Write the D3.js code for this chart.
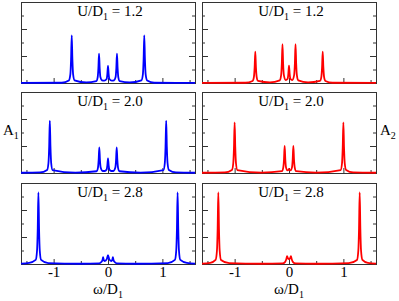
<!DOCTYPE html>
<html><head><meta charset="utf-8">
<script src="https://cdn.jsdelivr.net/npm/d3@7"></script>
<style>body{margin:0;background:#fff}svg{display:block}</style>
</head><body><svg id="c" width="399" height="301"></svg>
<script>
const xTicksMajor = [-1, 0, 1];
const xTicksMinor = [-1.5, -0.5, 0.5, 1.5];
const yTicksMajor = [0, 2, 4, 6];
const yTicksMinor = [1, 3, 5];
const uLabels = ["1.2", "2.0", "2.8"];
const seriesNames = ["A1", "A2"];
const seriesColors = ["#0000ff", "#ff0000"];

const a1_u12 = [[-1.6,0.01],[-0.85,0.02],[-0.72,0.19],[-0.692,0.66],[-0.679,1.77],[-0.667,3.53],[-0.655,1.77],[-0.642,0.66],[-0.615,0.2],[-0.4,0.04],[-0.215,0.14],[-0.19,0.42],[-0.177,1.09],[-0.165,2.17],[-0.153,1.09],[-0.14,0.44],[-0.11,0.2],[-0.07,0.17],[-0.025,0.3],[-0.012,0.66],[0,1.27],[0.012,0.66],[0.025,0.3],[0.07,0.17],[0.11,0.2],[0.14,0.44],[0.153,1.09],[0.165,2.17],[0.177,1.09],[0.19,0.42],[0.215,0.14],[0.4,0.04],[0.615,0.2],[0.642,0.66],[0.655,1.77],[0.667,3.53],[0.679,1.77],[0.692,0.66],[0.72,0.19],[0.85,0.02],[1.6,0.01]];
const a2_u12 = [[-1.6,0.01],[-0.8,0.02],[-0.67,0.15],[-0.645,0.46],[-0.632,1.16],[-0.62,2.32],[-0.608,1.16],[-0.595,0.46],[-0.57,0.16],[-0.35,0.05],[-0.17,0.2],[-0.145,0.58],[-0.132,1.44],[-0.12,2.87],[-0.108,1.44],[-0.095,0.6],[-0.06,0.22],[-0.025,0.32],[-0.012,0.68],[0,1.28],[0.012,0.68],[0.025,0.32],[0.06,0.22],[0.095,0.6],[0.108,1.44],[0.12,2.87],[0.132,1.44],[0.145,0.58],[0.17,0.2],[0.35,0.05],[0.57,0.16],[0.595,0.46],[0.608,1.16],[0.62,2.32],[0.632,1.16],[0.645,0.46],[0.67,0.15],[0.8,0.02],[1.6,0.01]];
const a1_u20 = [[-1.6,0.02],[-1.25,0.04],[-1.12,0.22],[-1.095,0.74],[-1.082,1.94],[-1.07,3.87],[-1.058,1.94],[-1.045,0.74],[-1.02,0.22],[-0.6,0.03],[-0.21,0.13],[-0.185,0.38],[-0.172,0.95],[-0.16,1.9],[-0.148,0.95],[-0.135,0.4],[-0.1,0.15],[-0.06,0.15],[-0.025,0.26],[-0.012,0.56],[0,1.09],[0.012,0.56],[0.025,0.26],[0.06,0.15],[0.1,0.15],[0.135,0.4],[0.148,0.95],[0.16,1.9],[0.172,0.95],[0.185,0.38],[0.21,0.13],[0.6,0.03],[1.02,0.22],[1.045,0.74],[1.058,1.94],[1.07,3.87],[1.082,1.94],[1.095,0.74],[1.12,0.22],[1.25,0.04],[1.6,0.02]];
const a2_u20 = [[-1.6,0.02],[-1.18,0.04],[-1.05,0.22],[-1.025,0.72],[-1.012,1.88],[-1.0,3.75],[-0.988,1.88],[-0.975,0.72],[-0.95,0.22],[-0.5,0.03],[-0.13,0.14],[-0.105,0.42],[-0.092,1.0],[-0.08,2.0],[-0.068,1.0],[-0.055,0.42],[-0.03,0.2],[-0.012,0.22],[0,0.3],[0.012,0.22],[0.03,0.2],[0.055,0.42],[0.068,1.0],[0.08,2.0],[0.092,1.0],[0.105,0.42],[0.13,0.14],[0.5,0.03],[0.95,0.22],[0.975,0.72],[0.988,1.88],[1.0,3.75],[1.012,1.88],[1.025,0.72],[1.05,0.22],[1.18,0.04],[1.6,0.02]];
const a1_u28 = [[-1.6,0.03],[-1.45,0.08],[-1.33,0.3],[-1.305,1.0],[-1.292,2.65],[-1.28,5.3],[-1.268,2.65],[-1.255,1.0],[-1.23,0.3],[-1.1,0.06],[-0.5,0.02],[-0.16,0.05],[-0.115,0.18],[-0.1,0.32],[-0.09,0.5],[-0.08,0.32],[-0.06,0.22],[-0.02,0.38],[0,0.66],[0.02,0.38],[0.06,0.22],[0.08,0.32],[0.09,0.5],[0.1,0.32],[0.115,0.18],[0.16,0.05],[0.5,0.02],[1.1,0.06],[1.23,0.3],[1.255,1.0],[1.268,2.65],[1.28,5.3],[1.292,2.65],[1.305,1.0],[1.33,0.3],[1.45,0.08],[1.6,0.03]];
const a2_u28 = [[-1.6,0.03],[-1.45,0.08],[-1.35,0.3],[-1.325,1.0],[-1.312,2.65],[-1.3,5.3],[-1.288,2.65],[-1.275,1.0],[-1.25,0.3],[-1.1,0.06],[-0.5,0.02],[-0.12,0.04],[-0.07,0.16],[-0.05,0.35],[-0.035,0.58],[-0.02,0.42],[0,0.36],[0.02,0.42],[0.035,0.58],[0.05,0.35],[0.07,0.16],[0.12,0.04],[0.5,0.02],[1.1,0.06],[1.25,0.3],[1.275,1.0],[1.288,2.65],[1.3,5.3],[1.312,2.65],[1.325,1.0],[1.35,0.3],[1.45,0.08],[1.6,0.03]];

const panelData = [[a1_u12, a2_u12], [a1_u20, a2_u20], [a1_u28, a2_u28]];

const svg = d3.select("#c");
const font = "'Liberation Serif','Times New Roman',serif";
const colX = [[21, 195], [202, 376]];
const rowY = [[2, 83], [92, 173], [183, 264]];

rowY.forEach((ry, r) => {
  colX.forEach((cx, c) => {
    const x = d3.scaleLinear().domain([-1.6, 1.6]).range(cx);
    const y = d3.scaleLinear().domain([0, 6]).range([ry[1], ry[0]]);
    const g = svg.append("g");
    const axStyle = sel => { sel.select(".domain").remove(); sel.selectAll("line").attr("stroke", "#333"); };
    const bMaj = g.append("g").attr("transform", `translate(0,${ry[1]})`)
      .call(d3.axisBottom(x).tickValues(xTicksMajor).tickSizeInner(-5).tickSizeOuter(0).tickPadding(2)
        .tickFormat(r === 2 ? (d => d3.format("d")(d).replace("−", "-")) : () => ""));
    axStyle(bMaj);
    bMaj.selectAll("text").attr("font-family", font).attr("font-size", 15).attr("fill", "#000");
    const bMin = g.append("g").attr("transform", `translate(0,${ry[1]})`)
      .call(d3.axisBottom(x).tickValues(xTicksMinor).tickSizeInner(-3).tickSizeOuter(0).tickFormat(() => ""));
    axStyle(bMin);
    [[d3.axisLeft, cx[0], -6, -3], [d3.axisRight, cx[1], -6, -3]].forEach(([fn, px, maj, mn]) => {
      const a = g.append("g").attr("transform", `translate(${px},0)`)
        .call(fn(y).tickValues(yTicksMajor).tickSizeInner(maj).tickSizeOuter(0).tickFormat(() => ""));
      axStyle(a);
      const b = g.append("g").attr("transform", `translate(${px},0)`)
        .call(fn(y).tickValues(yTicksMinor).tickSizeInner(mn).tickSizeOuter(0).tickFormat(() => ""));
      axStyle(b);
    });
    g.append("rect").attr("x", cx[0] + 0.5).attr("y", ry[0] + 0.5)
      .attr("width", cx[1] - cx[0]).attr("height", ry[1] - ry[0])
      .attr("fill", "none").attr("stroke", "#333").attr("stroke-width", 1);
    const line = d3.line().x(d => x(d[0])).y(d => y(d[1])).curve(d3.curveMonotoneX);
    g.append("path").datum(panelData[r][c]).attr("d", line)
      .attr("fill", "none").attr("stroke", seriesColors[c]).attr("stroke-width", 1.8)
      .attr("stroke-linejoin", "round");
    const t = g.append("text").attr("x", (cx[0] + cx[1]) / 2 + 2).attr("y", ry[0] + 14)
      .attr("text-anchor", "middle").attr("font-family", font).attr("font-size", 15);
    t.append("tspan").text("U/D");
    t.append("tspan").attr("font-size", 10).attr("dy", 4).text("1");
    t.append("tspan").attr("dy", -4).text(" = " + uLabels[r]);
    if (r === 2) {
      const xl = g.append("text").attr("x", (cx[0] + cx[1]) / 2).attr("y", 294)
        .attr("text-anchor", "middle").attr("font-family", font).attr("font-size", 15);
      xl.append("tspan").text("ω/D");
      xl.append("tspan").attr("font-size", 10).attr("dy", 4).text("1");
    }
  });
});
[[3, "A", "1"], [380, "A", "2"]].forEach(([px, a, s]) => {
  const t = svg.append("text").attr("x", px).attr("y", 135).attr("font-family", font).attr("font-size", 15);
  t.append("tspan").text(a);
  t.append("tspan").attr("font-size", 10).attr("dy", 4).text(s);
});
</script></body></html>
